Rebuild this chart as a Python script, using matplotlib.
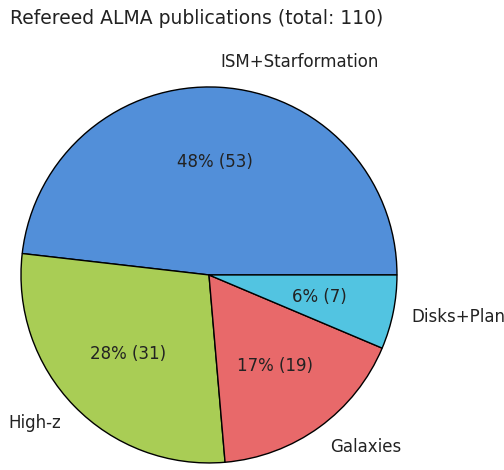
import matplotlib.pyplot as plt

# Publication counts per category
labels = ["ISM+Starformation", "High-z", "Galaxies", "Disks+Planets"]
counts = [53, 31, 19, 7]
colors = ["#528FD9", "#A9CD55", "#E8696A", "#52C4E1"]
total = sum(counts)

fig = plt.figure(figsize=(5.04, 4.70), dpi=100)
ax = fig.add_axes([-0.0516, -0.085, 0.9325, 1.0])


def fmt(pct):
    n = int(round(pct * total / 100.0))
    return f"{pct:.0f}% ({n})"


wedges, texts, autotexts = ax.pie(counts, labels=labels, colors=colors,
                                  autopct=fmt, startangle=0,
                                  wedgeprops=dict(edgecolor="black", linewidth=1),
                                  textprops=dict(fontsize=12, color="#222222"))
ax.set_aspect("equal")

# outer labels sit a bit further out vertically in the original
for t in texts:
    x, y = t.get_position()
    t.set_position((x, y * 1.03))

fig.text(10 / 504, 1 - 18 / 470, f"Refereed ALMA publications (total: {total})",
         fontsize=13.5, va="center", ha="left", color="#222222")

fig.savefig("out.png", dpi=100)
